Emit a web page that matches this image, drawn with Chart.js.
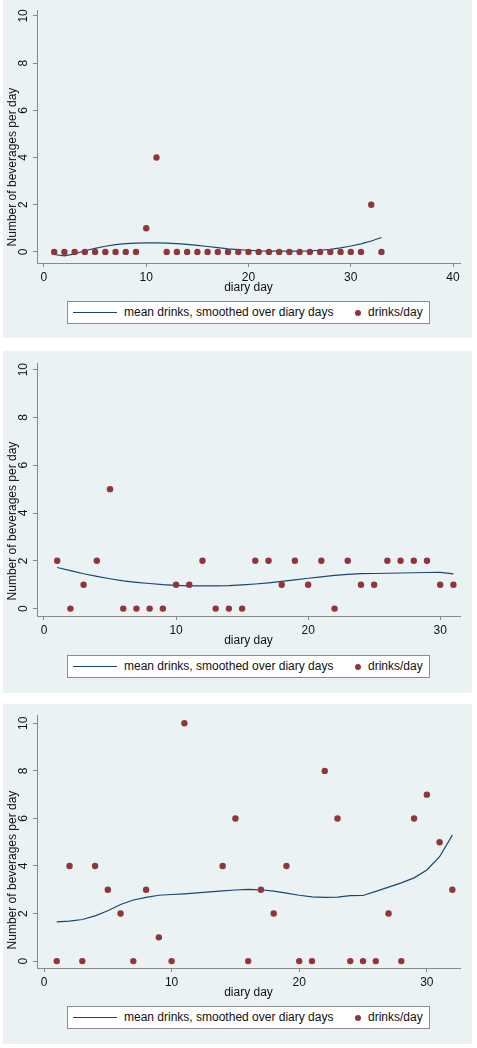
<!DOCTYPE html>
<html>
<head>
<meta charset="utf-8">
<script src="https://cdn.jsdelivr.net/npm/chart.js@4.4.0/dist/chart.umd.min.js"></script>
<style>
  body { margin: 0; background: #fff; width: 477px; height: 1048px; position: relative; font-family: "Liberation Sans", Arial, sans-serif; color: #111; }
  .panel { position: absolute; left: 3px; width: 469px; background: #eaf2f3; }
  .panel canvas { position: absolute; left: 0; top: 0; }
  .ytitle { position: absolute; left: -91px; width: 200px; height: 14px; line-height: 14px; font-size: 12px; text-align: center; transform: rotate(-90deg); white-space: nowrap; }
  .legend { position: absolute; left: 64px; width: 361px; height: 21px; border: 1px solid #8c8c8c; background: #fff; font-size: 12px; }
  .legend span { position: absolute; }
  .legend .txt { top: 0; line-height: 21px; white-space: nowrap; }
  .legend .lin { left: 5px; top: 10px; width: 44px; border-top: 1.2px solid #1a476f; }
  .legend .dot { left: 287px; top: 8px; width: 6px; height: 6px; border-radius: 50%; background: #90353b; }
</style>
</head>
<body>

<div class="panel" style="top:0px;height:338px">
  <canvas id="grafica1" width="469" height="338"></canvas>
  <div class="ytitle" style="top:160px">Number of beverages per day</div>
  <div class="legend" style="top:301px">
    <span class="lin"></span><span class="txt" style="left:56px">mean drinks, smoothed over diary days</span>
    <span class="dot"></span><span class="txt" style="left:300px">drinks/day</span>
  </div>
</div>

<div class="panel" style="top:351px;height:342px">
  <canvas id="grafica2" width="469" height="342"></canvas>
  <div class="ytitle" style="top:163px">Number of beverages per day</div>
  <div class="legend" style="top:304px">
    <span class="lin"></span><span class="txt" style="left:56px">mean drinks, smoothed over diary days</span>
    <span class="dot"></span><span class="txt" style="left:300px">drinks/day</span>
  </div>
</div>

<div class="panel" style="top:704px;height:340px">
  <canvas id="grafica3" width="469" height="340"></canvas>
  <div class="ytitle" style="top:159px">Number of beverages per day</div>
  <div class="legend" style="top:302px">
    <span class="lin"></span><span class="txt" style="left:56px">mean drinks, smoothed over diary days</span>
    <span class="dot"></span><span class="txt" style="left:300px">drinks/day</span>
  </div>
</div>

<script>
// tick labels
const ticks_y = [0, 2, 4, 6, 8, 10];
const ticks_x1 = [0, 10, 20, 30, 40];
const ticks_x2 = [0, 10, 20, 30];
const ticks_x3 = [0, 10, 20, 30];

// diary 1
const dias_1 = [1,2,3,4,5,6,7,8,9,10,11,12,13,14,15,16,17,18,19,20,21,22,23,24,25,26,27,28,29,30,31,32,33];
const tragos_1 = [0,0,0,0,0,0,0,0,0,1,4,0,0,0,0,0,0,0,0,0,0,0,0,0,0,0,0,0,0,0,0,2,0];
const suave_1 = [-0.11,-0.17,-0.08,0.05,0.15,0.24,0.31,0.35,0.37,0.38,0.38,0.37,0.35,0.32,0.28,0.23,0.18,0.13,0.1,0.07,0.04,0.03,0.03,0.03,0.03,0.04,0.07,0.11,0.17,0.25,0.34,0.46,0.61];

// diary 2
const dias_2 = [1,2,3,4,5,6,7,8,9,10,11,12,13,14,15,16,17,18,19,20,21,22,23,24,25,26,27,28,29,30,31];
const tragos_2 = [2,0,1,2,5,0,0,0,0,1,1,2,0,0,0,2,2,1,2,1,2,0,2,1,1,2,2,2,2,1,1];
const suave_2 = [1.72,1.59,1.46,1.35,1.25,1.16,1.1,1.05,1.0,0.97,0.95,0.95,0.95,0.96,0.99,1.03,1.08,1.14,1.2,1.27,1.33,1.39,1.43,1.46,1.47,1.48,1.49,1.5,1.51,1.52,1.45];

// diary 3 (no entries on days 12 and 13)
const dias_3 = [1,2,3,4,5,6,7,8,9,10,11,14,15,16,17,18,19,20,21,22,23,24,25,26,27,28,29,30,31,32];
const tragos_3 = [0,4,0,4,3,2,0,3,1,0,10,4,6,0,3,2,4,0,0,8,6,0,0,0,2,0,6,7,5,3];
const suave_3 = [1.65,1.68,1.75,1.9,2.12,2.38,2.57,2.68,2.77,2.8,2.83,2.95,2.99,3.02,3.0,2.94,2.86,2.77,2.7,2.68,2.69,2.75,2.76,2.93,3.11,3.29,3.5,3.83,4.39,5.3];

const fuente = { family: '"Liberation Sans", Arial, sans-serif', size: 12 };
const gris = '#8a8a8a';

function graficar(id, dias, tragos, suave, rango_x, rango_y, ticks_x, pad) {
  const ctx = document.getElementById(id);

  new Chart(ctx, {
    type: 'scatter',
    data: {
      datasets: [{
        label: 'drinks/day',
        data: dias.map(function(d, i){ return {x: d, y: tragos[i]} }),
        backgroundColor: '#90353b',
        borderColor: '#90353b',
        borderWidth: 0,
        pointRadius: 3.2,
        pointHoverRadius: 3.2,
        order: 0
      }, {
        type: 'line',
        label: 'mean drinks, smoothed over diary days',
        data: dias.map(function(d, i){ return {x: d, y: suave[i]} }),
        showLine: true,
        borderColor: '#1a476f',
        borderWidth: 1.2,
        pointRadius: 0,
        tension: 0,
        fill: false,
        order: 1
      }]
    },
    options: {
      responsive: false,
      animation: false,
      devicePixelRatio: 1,
      layout: { padding: { top: pad[0], bottom: pad[1], left: 0, right: 12 } },
      plugins: { legend: { display: false }, tooltip: { enabled: false } },
      scales: {
        x: {
          type: 'linear',
          min: rango_x[0],
          max: rango_x[1],
          afterBuildTicks: function(s){ s.ticks = ticks_x.map(function(v){ return {value: v} }) },
          afterFit: function(s){ s.height = 33; s.paddingLeft = 0; s.paddingRight = 0; },
          grid: { drawOnChartArea: false, tickLength: 4, tickColor: gris },
          border: { color: gris, width: 1 },
          ticks: { color: '#111', font: fuente, padding: 3, maxRotation: 0, autoSkip: false },
          title: { display: true, text: 'diary day', color: '#111', font: fuente, padding: { top: 0, bottom: 1 } }
        },
        y: {
          type: 'linear',
          min: rango_y[0],
          max: rango_y[1],
          afterBuildTicks: function(s){ s.ticks = ticks_y.map(function(v){ return {value: v} }) },
          afterFit: function(s){ s.width = 34; s.paddingTop = 0; s.paddingBottom = 0; },
          grid: { color: '#eef4f5', tickLength: 4, tickColor: gris },
          border: { color: gris, width: 1 },
          ticks: { color: '#111', font: fuente, padding: 2.5, minRotation: 90, maxRotation: 90, crossAlign: 'center', autoSkip: false }
        }
      }
    }
  });
}

graficar('grafica1', dias_1, tragos_1, suave_1, [-0.68, 40.68], [-0.47, 10.25], ticks_x1, [10, 42]);
graficar('grafica2', dias_2, tragos_2, suave_2, [-0.53, 31.5], [-0.31, 10.28], ticks_x2, [12, 44]);
graficar('grafica3', dias_3, tragos_3, suave_3, [-0.55, 32.6], [-0.29, 10.35], ticks_x3, [11, 43]);
</script>
</body>
</html>
